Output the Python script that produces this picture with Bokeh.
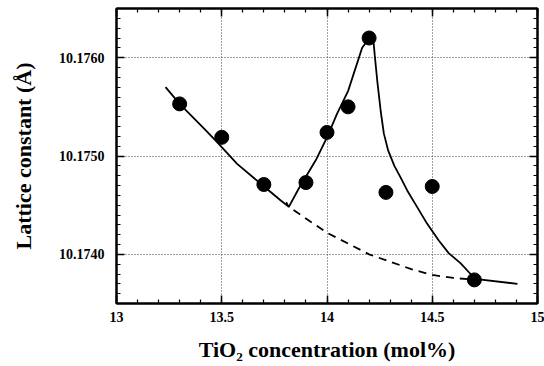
from bokeh.plotting import figure
from bokeh.models import (LinearAxis, Range1d, FixedTicker, PrintfTickFormatter,
                          CustomJSTickFormatter)
from bokeh.embed import file_html
from bokeh.resources import INLINE

# measured data points
conc = [13.30, 13.50, 13.70, 13.90, 14.00, 14.10, 14.20, 14.28, 14.50, 14.70]
lattice = [10.17553, 10.17519, 10.17471, 10.17473, 10.17524, 10.17550,
           10.17620, 10.17463, 10.17469, 10.17374]

# solid guide line 1 (decreasing branch)
fit1_x = [13.233, 13.30, 13.415, 13.478, 13.573, 13.684, 13.779, 13.814]
fit1_y = [10.17570, 10.17553, 10.17528, 10.17514, 10.17492, 10.17472,
          10.17455, 10.17449]

# solid guide line 2 (peak branch)
fit2_x = [13.806, 13.818, 13.866, 13.95, 14.0, 14.048, 14.10, 14.167, 14.205,
          14.222, 14.227, 14.2385, 14.2555, 14.270, 14.290, 14.320, 14.350,
          14.381, 14.4285, 14.476, 14.531, 14.579, 14.634, 14.682, 14.702,
          14.905]
fit2_y = [10.17453, 10.17448, 10.17467, 10.17497, 10.17519, 10.17543, 10.17566,
          10.17610, 10.17621, 10.17614, 10.17602, 10.17577, 10.17545, 10.17523,
          10.17506, 10.17490, 10.17478, 10.17465, 10.17448, 10.17431, 10.17414,
          10.17401, 10.17391, 10.17380, 10.17375, 10.17370]

# dashed baseline
base_x = [13.841, 14.0, 14.2, 14.4, 14.5, 14.6, 14.705]
base_y = [10.17445, 10.17422, 10.17400, 10.17385, 10.17379, 10.17376, 10.17374]

x_ticks = [13, 13.5, 14, 14.5, 15]
y_ticks = [10.1740, 10.1750, 10.1760]

x_title = "TiO\u2082 concentration (mol%)"
y_title = "Lattice constant (\u00c5)"

FONT = "Liberation Serif"
X0, X1 = 13, 15
Y0, Y1 = 10.1735, 10.1765

p = figure(width=544, height=366, output_backend="svg", toolbar_location=None,
           x_range=Range1d(X0, X1), y_range=Range1d(Y0, Y1),
           min_border_left=116, min_border_right=7, min_border_top=8,
           min_border_bottom=63)
p.background_fill_color = "white"
p.border_fill_color = "white"
p.outline_line_color = "black"
p.outline_line_width = 2

def style_axis(ax):
    ax.axis_line_width = 2
    ax.axis_line_color = "black"
    ax.major_tick_in = 8
    ax.major_tick_out = 0
    ax.minor_tick_in = 4
    ax.minor_tick_out = 0
    ax.major_tick_line_width = 1.5
    ax.minor_tick_line_width = 1.2
    ax.major_tick_line_color = "black"
    ax.minor_tick_line_color = "black"
    ax.major_label_text_font = FONT
    ax.major_label_text_font_style = "bold"
    ax.major_label_text_font_size = "14px"
    ax.major_label_text_color = "black"
    ax.axis_label_text_font = FONT
    ax.axis_label_text_font_style = "bold"
    ax.axis_label_text_font_size = "22px"
    ax.axis_label_text_color = "black"

xt = FixedTicker(ticks=x_ticks, minor_ticks=[X0 + 0.1 * i for i in range(21)])
yt = FixedTicker(ticks=y_ticks,
                 minor_ticks=[Y0 + 0.0001 * i for i in range(31)])

p.xaxis.ticker = xt
p.yaxis.ticker = yt
p.yaxis.formatter = PrintfTickFormatter(format="%.4f")
p.xaxis.axis_label = x_title
p.yaxis.axis_label = y_title
style_axis(p.xaxis[0])
style_axis(p.yaxis[0])
p.xaxis.major_label_standoff = 8
p.xaxis.axis_label_standoff = 12
p.yaxis.major_label_standoff = 12
p.yaxis.axis_label_standoff = 20

blank = CustomJSTickFormatter(code="return ''")
top = LinearAxis(ticker=xt, formatter=blank)
style_axis(top)
p.add_layout(top, "above")
right = LinearAxis(ticker=yt, formatter=blank)
style_axis(right)
p.add_layout(right, "right")

p.xgrid.ticker = xt
p.ygrid.ticker = yt
for g in (p.xgrid[0], p.ygrid[0]):
    g.grid_line_color = "#444444"
    g.grid_line_width = 1
    g.grid_line_dash = "1 2"

p.line(fit1_x, fit1_y, line_color="black", line_width=1.8)
p.line(fit2_x, fit2_y, line_color="black", line_width=1.8)
p.line(base_x, base_y, line_color="black", line_width=1.8, line_dash="8 6")
p.scatter(conc, lattice, size=14, fill_color="black", line_color="black")

open("out.html", "w").write(file_html(p, INLINE))
